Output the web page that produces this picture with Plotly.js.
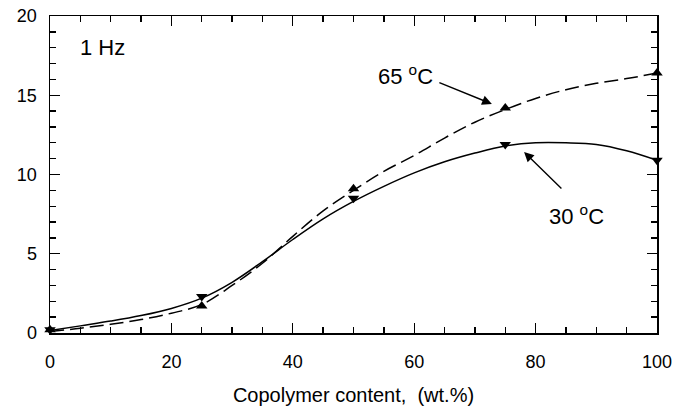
<!DOCTYPE html>
<html>
<head>
<meta charset="utf-8">
<script src="https://cdn.plot.ly/plotly-3.0.1.min.js"></script>
<style>html,body{margin:0;padding:0;background:#fff}#chart{width:674px;height:409px}</style>
</head>
<body>
<div id="chart"></div>
<script>
// Marker data
const markerX = [0, 25, 50, 75, 100];
const y30 = [0.2, 2.3, 8.5, 11.9, 10.9];
const y65 = [0.2, 1.7, 9.1, 14.2, 16.4];
// Smooth fitted curves
const curveX = [0, 5, 10, 15, 20, 25, 30, 35, 40, 45, 50, 55, 60, 65, 70, 75, 80, 85, 90, 95, 100];
const curve30 = [0.15, 0.45, 0.75, 1.1, 1.55, 2.2, 3.2, 4.5, 5.9, 7.2, 8.3, 9.25, 10.1, 10.8, 11.35, 11.8, 12.0, 12.0, 11.9, 11.5, 10.9];
const curve65 = [0.1, 0.3, 0.55, 0.85, 1.25, 1.8, 3.0, 4.4, 6.1, 7.7, 9.0, 10.2, 11.2, 12.3, 13.3, 14.1, 14.8, 15.35, 15.75, 16.05, 16.4];
const xTicks = [0, 20, 40, 60, 80, 100];
const yTicks = [0, 5, 10, 15, 20];

const font = 'Liberation Sans, Arial, sans-serif';
const traces = [
  {x: curveX, y: curve30, mode: 'lines', line: {shape: 'spline', color: '#000', width: 1.5}, hoverinfo: 'skip'},
  {x: curveX, y: curve65, mode: 'lines', line: {shape: 'spline', color: '#000', width: 1.5, dash: '14px,6px'}, hoverinfo: 'skip'},
  {x: markerX, y: y30, mode: 'markers', marker: {symbol: 'triangle-down', size: 10, color: '#000'}, cliponaxis: false},
  {x: markerX, y: y65, mode: 'markers', marker: {symbol: 'triangle-up', size: 10, color: '#000'}, cliponaxis: false}
];

const axisCommon = {
  showgrid: false, zeroline: false, showline: true, linecolor: '#000', linewidth: 1.5,
  mirror: 'allticks', ticks: 'inside', ticklen: 10, tickwidth: 1.3, tickcolor: '#000',
  tickfont: {family: font, size: 18, color: '#000'}
};

const layout = {
  width: 674, height: 409,
  margin: {l: 50, r: 17, t: 16, b: 76},
  paper_bgcolor: '#fff', plot_bgcolor: '#fff',
  showlegend: false,
  font: {family: font, color: '#000'},
  xaxis: Object.assign({}, axisCommon, {
    range: [0, 100], tickvals: xTicks, ticktext: xTicks.map(String),
    ticklabelstandoff: 12,
    minor: {dtick: 5, ticks: 'inside', ticklen: 6, tickwidth: 1.3, tickcolor: '#000'},
    title: {text: 'Copolymer content,  (wt.%)', font: {family: font, size: 20, color: '#000'}, standoff: 17}
  }),
  yaxis: Object.assign({}, axisCommon, {
    range: [0, 20], tickvals: yTicks, ticktext: yTicks.map(String),
    ticklabelstandoff: 8,
    minor: {dtick: 1, ticks: 'inside', ticklen: 6, tickwidth: 1.3, tickcolor: '#000'}
  }),
  annotations: [
    {x: 4.6, y: 18.0, xref: 'x', yref: 'y', text: '1 Hz', showarrow: false, xanchor: 'left', yanchor: 'middle', font: {family: font, size: 22, color: '#000'}},
    {x: 53.7, y: 16.3, xref: 'x', yref: 'y', text: '65 <sup>o</sup>C', showarrow: false, xanchor: 'left', yanchor: 'middle', font: {family: font, size: 22, color: '#000'}},
    {x: 81.9, y: 7.45, xref: 'x', yref: 'y', text: '30 <sup>o</sup>C', showarrow: false, xanchor: 'left', yanchor: 'middle', font: {family: font, size: 22, color: '#000'}},
    {x: 72.8, y: 14.45, ax: 63.9, ay: 15.84, xref: 'x', yref: 'y', axref: 'x', ayref: 'y', text: '', showarrow: true, arrowhead: 2, arrowsize: 1.4, arrowwidth: 1.4, arrowcolor: '#000'},
    {x: 78.1, y: 11.42, ax: 84.5, ay: 9.02, xref: 'x', yref: 'y', axref: 'x', ayref: 'y', text: '', showarrow: true, arrowhead: 2, arrowsize: 1.4, arrowwidth: 1.4, arrowcolor: '#000'}
  ]
};

Plotly.newPlot('chart', traces, layout, {displayModeBar: false, staticPlot: true});
</script>
</body>
</html>
